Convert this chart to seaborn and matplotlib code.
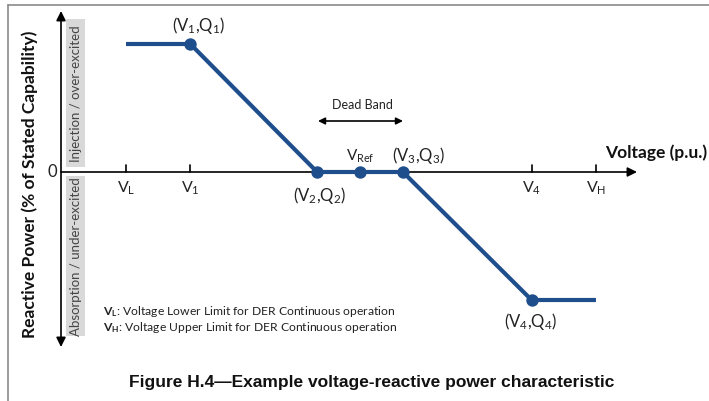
import matplotlib
matplotlib.use("Agg")
import matplotlib.pyplot as plt
from matplotlib.patches import Rectangle
from matplotlib.lines import Line2D
import seaborn as sns
import pandas as pd

# Volt-var characteristic (per-unit voltage vs. reactive power share)
curve_voltage = [0.880, 0.913, 0.978, 1.000, 1.022, 1.088, 1.121]
curve_reactive = [1.0, 1.0, 0.0, 0.0, 0.0, -1.0, -1.0]

point_voltage = [0.913, 0.978, 1.000, 1.022, 1.088]
point_reactive = [1.0, 0.0, 0.0, 0.0, -1.0]
point_labels = [r"(V$_1$,Q$_1$)", r"(V$_2$,Q$_2$)", r"V$_{\rm Ref}$",
                r"(V$_3$,Q$_3$)", r"(V$_4$,Q$_4$)"]

tick_voltage = [0.880, 0.913, 1.088, 1.121]
tick_labels = [r"V$_{\rm L}$", r"V$_1$", r"V$_4$", r"V$_{\rm H}$"]

sns.set_theme(style="white")
plt.rcParams["font.family"] = ["Lato", "DejaVu Sans"]
plt.rcParams["mathtext.fontset"] = "custom"
plt.rcParams["mathtext.rm"] = "Lato"
plt.rcParams["mathtext.it"] = "Lato:italic"
plt.rcParams["mathtext.bf"] = "Lato:bold"

W, H = 709, 402
fig = plt.figure(figsize=(W / 100, H / 100), dpi=100)
ax = fig.add_axes([0, 0, 1, 1])
ax.set_axis_off()

# 1950 px per p.u. horizontally, 128 px per unit of Q vertically
ax.set_xlim(1 - 360 / 1950, 1 + 349 / 1950)
ax.set_ylim(-229 / 128, 173 / 128)


def fx(x):
    return x / W


def fy(y):
    return 1 - y / H


navy = "#1f4e8c"
curve = pd.DataFrame({"V": curve_voltage, "Q": curve_reactive})
sns.lineplot(data=curve, x="V", y="Q", sort=False, color=navy, lw=3.0,
             ax=ax, zorder=4, solid_capstyle="butt")
points = pd.DataFrame({"V": point_voltage, "Q": point_reactive})
sns.scatterplot(data=points, x="V", y="Q", color=navy, s=80, edgecolor=navy,
                linewidth=0, ax=ax, zorder=5)
ax.set_xlabel("")
ax.set_ylabel("")

# Axis lines with arrow heads
x_axis_left = 1 - (360 - 61) / 1950
x_axis_right = 1 + (637 - 360) / 1950
ax.annotate("", xy=(x_axis_right, 0), xytext=(x_axis_left, 0),
            arrowprops=dict(arrowstyle="-|>", color="black", lw=1.2,
                            mutation_scale=14, shrinkA=0, shrinkB=0), zorder=3)
ax.annotate("", xy=(x_axis_left, 161 / 128), xytext=(x_axis_left, -175 / 128),
            arrowprops=dict(arrowstyle="<|-|>", color="black", lw=1.2,
                            mutation_scale=14, shrinkA=0, shrinkB=0), zorder=3)

# Tick marks on the voltage axis
for v, lab in zip(tick_voltage, tick_labels):
    ax.plot([v, v], [0, 7 / 128], color="black", lw=1.2, zorder=3)
    ax.text(v, -15 / 128, lab, ha="center", va="center", fontsize=11.5,
            color="#222222")

ax.text(fx(52), fy(172), "0", transform=ax.transAxes, ha="center",
        va="center", fontsize=12, color="#222222")

# Point labels
label_pos = [(199, 26), (320, 196), (360, 156), (419, 156), (531, 322)]
for (px, py), lab in zip(label_pos, point_labels):
    ax.text(fx(px), fy(py), lab, transform=ax.transAxes, ha="center",
            va="center", fontsize=12 if lab != point_labels[2] else 11,
            color="#222222")

# Dead band
ax.text(fx(362), fy(105), "Dead Band", transform=ax.transAxes, ha="center",
        va="center", fontsize=9, color="#222222")
ax.annotate("", xy=(fx(403), fy(122)), xytext=(fx(318), fy(122)),
            xycoords="axes fraction", textcoords="axes fraction",
            arrowprops=dict(arrowstyle="<|-|>", color="black", lw=1.2,
                            mutation_scale=10, shrinkA=0, shrinkB=0))

ax.text(fx(605), fy(153), "Voltage (p.u.)", transform=ax.transAxes,
        ha="left", va="center", fontsize=12.5, fontweight="bold",
        color="#111111")

ax.text(fx(30), fy(184), "Reactive Power (% of Stated Capability)",
        transform=ax.transAxes, ha="center", va="center", rotation=90,
        fontsize=12.5, fontweight="bold", color="#111111")

# Shaded direction labels beside the Q axis
for y0, y1, lab in [(20, 168, "Injection / over-excited"),
                    (177, 337, "Absorption / under-excited")]:
    ax.add_patch(Rectangle((fx(66), fy(y1)), fx(85) - fx(66), fy(y0) - fy(y1),
                           transform=ax.transAxes, facecolor="#d9d9d9",
                           edgecolor="none", zorder=1))
    ax.text(fx(75.5), fy((y0 + y1) / 2), lab, transform=ax.transAxes,
            ha="center", va="center", rotation=90, fontsize=9.5,
            color="#444444", zorder=2)

# Limit definitions
ax.text(fx(103), fy(319.5),
        r"$\mathbf{V}_\mathbf{L}$: Voltage Lower Limit for DER Continuous operation"
        "\n"
        r"$\mathbf{V}_\mathbf{H}$: Voltage Upper Limit for DER Continuous operation",
        transform=ax.transAxes, ha="left", va="center", fontsize=8.7,
        linespacing=1.05, color="#222222")

fig.text(fx(372), fy(383),
         "Figure H.4\u2014Example voltage-reactive power characteristic",
         ha="center", va="center", fontsize=12.5, fontweight="bold",
         family=["Liberation Sans", "DejaVu Sans"], color="#111111")

# Frame edges
fig.add_artist(Line2D([fx(8), 1], [fy(6), fy(6)], transform=fig.transFigure,
                      color="#8a8a8a", lw=1.2))
fig.add_artist(Line2D([fx(8), fx(8)], [fy(6), 0], transform=fig.transFigure,
                      color="#8a8a8a", lw=1.2))

fig.savefig("out.png", dpi=100)
